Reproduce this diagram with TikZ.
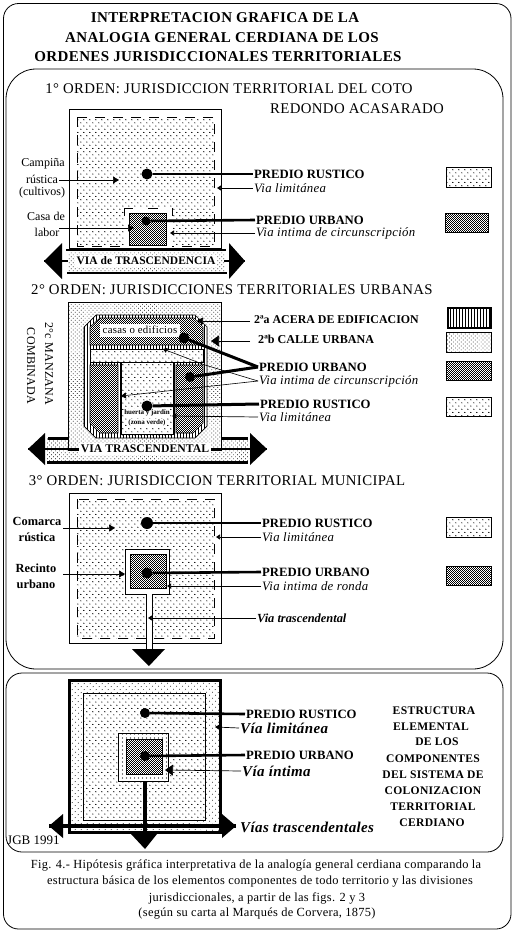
\documentclass[tikz,border=0pt]{standalone}
\usepackage{fontspec}
\setmainfont{Liberation Serif}
\usetikzlibrary{patterns.meta,arrows.meta}
\newfontfamily\spc[LetterSpace=2.5]{Liberation Serif}
\newcommand\rusticfield[4]{%
 \begin{scope}
 \clip (#1,#2) rectangle (#3,#4);
 \pgfmathtruncatemacro\rnx{(#3-#1)/6}\pgfmathtruncatemacro\rny{(#4-#2)/6.4}
 \fill[black] foreach \i in {0,...,\rnx}{foreach \j in {0,...,\rny}{
   (#1+\i*6,#2+\j*6.4+3) -- ++(.8,-1) -- ++(.8,1) -- cycle
   (#1+\i*6+3,#2+\j*6.4+6.2) -- ++(.8,-1) -- ++(.8,1) -- cycle }};
 \end{scope}}
\newcommand\checkfield[4]{%
 \fill[white] (#1,#2) rectangle (#3,#4);
 \begin{scope}
 \clip (#1,#2) rectangle (#3,#4);
 \pgfmathtruncatemacro\cnx{#3-#1}\pgfmathtruncatemacro\cny{#4-#2}
 \fill[black] foreach \i in {0,2,...,\cnx}{foreach \j in {0,2,...,\cny}{
   (#1+\i,#2+\j) rectangle ++(.85,.85) (#1+\i+1,#2+\j+1) rectangle ++(.85,.85) }};
 \end{scope}}
\newcommand\urbanbox[4]{\checkfield{#1}{#2}{#3}{#4}\draw[thinln] (#1,#2) rectangle (#3,#4);}
\newcommand\rusticbox[4]{\fill[white] (#1,#2) rectangle (#3,#4);\rusticfield{#1}{#2}{#3}{#4}\draw[thinln] (#1,#2) rectangle (#3,#4);}
\tikzset{
 every node/.style={inner sep=1pt,text=black},
 streetfill/.style={pattern={Dots[distance=2.8pt,angle=45,radius=.5pt]},pattern color=black},
 streetsparse/.style={pattern={Dots[distance=4pt,angle=45,radius=.55pt]},pattern color=black},
 hatchfill/.style={pattern={Lines[angle=90,distance=3pt,line width=.7pt]},pattern color=black},
 thinln/.style={line width=.8pt},
 thickln/.style={line width=2.6pt},
 ptr/.style={line width=.7pt,-{Triangle[length=6pt,width=7pt]}},
 ptrbig/.style={line width=.7pt,-{Triangle[length=8pt,width=11pt]}},
 ptrsmall/.style={line width=.7pt,-{Triangle[length=4pt,width=5pt]}},
 blob/.style={circle,fill=black,inner sep=0pt},
 bighead/.style={fill=black},
 dashbox/.style={line width=.8pt,dash pattern=on 10pt off 8pt},
 hdtxt/.style={font=\fontsize{14.8}{15}\selectfont\spc},
 ttltxt/.style={font=\fontsize{15}{15}\bfseries\selectfont\spc},
 pbtxt/.style={anchor=west,font=\fontsize{12.7}{13}\bfseries\selectfont},
 pitxt/.style={anchor=west,font=\fontsize{12.8}{13}\itshape\selectfont\spc},
 captxt/.style={font=\fontsize{12.4}{13}\selectfont\spc},
 smtxt/.style={font=\fontsize{12}{12}\selectfont},
 smbtxt/.style={font=\fontsize{12.4}{12}\bfseries\selectfont},
 vittxt/.style={anchor=west,font=\fontsize{15}{15}\bfseries\itshape\selectfont\spc},
 esttxt/.style={font=\fontsize{11.6}{13}\bfseries\selectfont\spc},
}
\begin{document}
\begin{tikzpicture}[x=1pt,y=-1pt]
\useasboundingbox (0,0) rectangle (514,930);
\fill[white] (0,0) rectangle (514,930);
% frames
\draw[thinln,rounded corners=15pt] (3.5,3.5) rectangle (511,929);
\draw[thinln,rounded corners=30pt] (6,69) rectangle (503,669);
\draw[thinln,rounded corners=16pt] (6,673) rectangle (503,852);
% title
\node[ttltxt] (t1) at (225,18) {INTERPRETACION GRAFICA DE LA};
\node[ttltxt] (t2) at (222,38) {ANALOGIA GENERAL CERDIANA DE LOS};
\node[ttltxt] (t3) at (218,57) {ORDENES JURISDICCIONALES TERRITORIALES};
% ---------- first order
\node[hdtxt] (o1) at (229,89) {1° ORDEN: JURISDICCION TERRITORIAL DEL COTO};
\node[hdtxt] (o1b) at (357,109) {REDONDO ACASARADO};
\draw[thinln] (69,109) rectangle (221,248);
\rusticfield{77}{117}{214}{246}
\draw[dashbox] (77,117) rectangle (214,246);
\fill[white] (124,208) rectangle (172,247);
\draw[line width=.8pt] (124,216) -- (124,208) -- (133,208) (148,208) -- (158,208) (172,208) -- (172,216);
\urbanbox{129}{213}{166}{245}
\node[blob,minimum size=11pt] (d1r) at (147,174) {};
\node[blob,minimum size=9pt] (d1u) at (146,221) {};
\fill[streetfill] (68,252) rectangle (224,271);
\draw[thickln] (66,250) -- (226,250);
\draw[thickln] (67,273) -- (227,273);
\node[font=\fontsize{11.5}{13}\bfseries\selectfont,fill=white,inner sep=2pt] (v1) at (146,261) {VIA de TRASCENDENCIA};
\coordinate (a1l) at (44,261); \coordinate (a1r) at (245,261);
\fill[bighead] (a1l) -- (62,243) -- (62,279) -- cycle;
\fill[bighead] (a1r) -- (229,243) -- (229,279) -- cycle;
\draw[line width=2pt] (a1l) -- (68,261);
\draw[line width=2pt] (224,261) -- (a1r);
\node[smtxt] (c1) at (43,164) {Campiña};
\node[smtxt] (c2) at (42,179) {rústica};
\node[smtxt] (c3) at (42,193) {(cultivos)};
\node[smtxt] (c4) at (46,216) {Casa de};
\node[smtxt] (c5) at (47,232) {labor};
\coordinate (sc) at (59,180); \coordinate (tc) at (119,180);
\coordinate (sl) at (59,228); \coordinate (tl) at (134,228);
\draw[ptr] (sc) -- (tc);
\draw[ptr] (sl) -- (tl);
\node[pbtxt] (p1r) at (253,174) {PREDIO RUSTICO};
\node[pitxt] (p1v) at (253,188) {Via limitánea};
\node[pbtxt] (p1u) at (255,220) {PREDIO URBANO};
\node[pitxt] (p1i) at (255,233) {Via intima de circunscripción};
\coordinate (t1v) at (217,188); \coordinate (t1i) at (170,233);
\draw[thickln] (d1r) -- (p1r.west);
\draw[thickln] (d1u) -- (p1u.west);
\draw[ptrsmall] (p1v.west) -- (t1v);
\draw[ptrsmall] (p1i.west) -- (t1i);
\rusticbox{446}{167}{491}{187}
\urbanbox{445}{213}{488}{232}
% ---------- second order
\node[hdtxt] (o2) at (232,290) {2° ORDEN: JURISDICCIONES TERRITORIALES URBANAS};
\fill[streetfill] (46,438) rectangle (249,461);
\fill[white] (68,302) rectangle (221,450);
\fill[streetfill,draw=black,line width=.8pt] (68,302) rectangle (221,450);
\draw[line width=.7pt,preaction={fill=white},hatchfill] (96,315) -- (195,315) -- (207,327) -- (207,426) -- (195,438) -- (96,438) -- (84,426) -- (84,327) -- cycle;
\begin{scope}
\clip (100,318) -- (194,318) -- (203,327) -- (203,345) -- (90,345) -- (90,327) -- cycle;
\checkfield{90}{318}{203}{345}
\end{scope}
\draw[line width=.6pt] (100,318) -- (194,318) -- (203,327) -- (203,345) -- (90,345) -- (90,327) -- cycle;
\begin{scope}
\clip (90,365) -- (118,365) -- (118,433) -- (100,433) -- (90,423) -- cycle;
\checkfield{90}{365}{118}{433}
\end{scope}
\draw[line width=.6pt] (90,365) -- (118,365) -- (118,433) -- (100,433) -- (90,423) -- cycle;
\begin{scope}
\clip (176,365) -- (203,365) -- (203,423) -- (193,433) -- (176,433) -- cycle;
\checkfield{176}{365}{203}{433}
\end{scope}
\draw[line width=.6pt] (176,365) -- (203,365) -- (203,423) -- (193,433) -- (176,433) -- cycle;
\fill[white] (122,362) rectangle (172,435);
\rusticfield{122}{362}{172}{435}
\draw[line width=1pt] (121,362) -- (121,434) -- (173,434) -- (173,362);
\fill[white] (90,349) rectangle (203,362);
\rusticfield{90}{349}{203}{362}
\draw[line width=.6pt] (90,349) rectangle (203,362);
\node[font=\fontsize{10.8}{12}\selectfont\spc,fill=white,minimum width=80pt,minimum height=13pt] (casas) at (140,330) {casas o edificios};
\node[font=\fontsize{7}{8}\bfseries\selectfont,fill=white,inner sep=.5pt] (hu) at (147,413) {huerta y jardín};
\node[font=\fontsize{7}{8}\bfseries\selectfont,fill=white,inner sep=.5pt] (zv) at (147,423) {(zona verde)};
\node[blob,minimum size=11pt] (d2a) at (184,338) {};
\node[blob,minimum size=10pt] (d2b) at (190,377) {};
\node[blob,minimum size=11pt] (d2r) at (147,406) {};
\draw[line width=3pt] (48,438) -- (68,438);
\draw[line width=3pt] (221,438) -- (248,438);
\draw[line width=3pt] (47,462) -- (248,462);
\node[font=\fontsize{11.7}{13}\bfseries\selectfont,fill=white,inner sep=2pt] (v2) at (145,449) {VIA TRASCENDENTAL};
\coordinate (a2l) at (28,449); \coordinate (a2r) at (267,449);
\fill[bighead] (a2l) -- (45,433) -- (45,465) -- cycle;
\fill[bighead] (a2r) -- (250,433) -- (250,465) -- cycle;
\draw[line width=2pt] (a2l) -- (v2.west);
\draw[line width=2pt] (v2.east) -- (a2r);
\node[rotate=-90,font=\fontsize{12}{13}\selectfont\spc] (m1) at (49,364) {2°c MANZANA};
\node[rotate=-90,font=\fontsize{12}{13}\selectfont\spc] (m2) at (31,366) {COMBINADA};
\node[pbtxt,font=\fontsize{11.9}{13}\bfseries\selectfont] (p2a) at (253,320) {2ªa ACERA DE EDIFICACION};
\node[pbtxt,font=\fontsize{12.1}{13}\bfseries\selectfont] (p2b) at (257,339) {2ªb CALLE URBANA};
\node[pbtxt] (p2u) at (258,367) {PREDIO URBANO};
\node[pitxt] (p2i) at (258,381) {Via intima de circunscripción};
\node[pbtxt] (p2r) at (259,404) {PREDIO RUSTICO};
\node[pitxt] (p2v) at (258,417) {Via limitánea};
\coordinate (t2a) at (197,321); \coordinate (t2b) at (211,341);
\coordinate (t2c) at (163,349); \coordinate (t2d) at (121,396); \coordinate (t2e) at (172,416);
\draw[ptr] (p2a.west) ++(-3,1) -- (t2a);
\draw[ptrbig] (p2b.west) ++(-7,2) -- (t2b);
\draw[line width=3pt] (d2a) -- (p2u.west);
\draw[line width=3pt] (d2b) -- (p2u.west);
\draw[line width=3pt] (d2r) -- (p2r.west);
\draw[line width=.6pt,-{Triangle[length=4pt,width=5pt]}] (p2i.west) -- (205,365) -- (t2c);
\draw[line width=.6pt,-{Triangle[length=5pt,width=6pt]}] (p2i.west) -- (t2d);
\draw[ptrsmall] (p2v.west) -- (t2e);
\draw[line width=1.2pt,hatchfill] (448,308) rectangle (491,328);
\draw[thinln,streetfill] (446,332) rectangle (491,352);
\urbanbox{446}{361}{491}{380}
\rusticbox{446}{397}{491}{416}
% ---------- third order
\node[hdtxt] (o3) at (217,481) {3° ORDEN: JURISDICCION TERRITORIAL MUNICIPAL};
\draw[thinln] (69,493) rectangle (221,643);
\rusticfield{77}{499}{214}{638}
\draw[dashbox] (77,499) rectangle (214,638);
\draw[thinln,fill=white] (125,549) rectangle (169,594);
\urbanbox{130}{554}{166}{588}
\fill[white] (146,590) rectangle (152,652);
\draw[thinln] (146,594) -- (146,652) (152,594) -- (152,652);
\coordinate (a3) at (149,666);
\fill[bighead] (a3) -- (132,649) -- (165,649) -- cycle;
\node[blob,minimum size=12pt] (d3r) at (147,523) {};
\node[blob,minimum size=11pt] (d3u) at (147,573) {};
\node[smbtxt] (k1) at (37,521) {Comarca};
\node[smbtxt] (k2) at (37,537) {rústica};
\node[smbtxt] (k3) at (36,568) {Recinto};
\node[smbtxt] (k4) at (36,584) {urbano};
\coordinate (k1t) at (115,528); \coordinate (k3t) at (125,574);
\coordinate (k1s) at (63,528); \coordinate (k3s) at (63,574);
\draw[ptr] (k1s) -- (k1t);
\draw[ptr] (k3s) -- (k3t);
\node[pbtxt] (p3r) at (261,523) {PREDIO RUSTICO};
\node[pitxt] (p3v) at (261,537) {Via limitánea};
\node[pbtxt] (p3u) at (261,572) {PREDIO URBANO};
\node[pitxt] (p3i) at (261,586) {Via intima de ronda};
\node[pitxt,font=\fontsize{12.4}{13}\bfseries\itshape\selectfont] (p3t) at (256,618) {Via trascendental};
\coordinate (t3v) at (216,537); \coordinate (t3i) at (167,586); \coordinate (t3t) at (148,618);
\draw[thickln] (d3r) -- (p3r.west);
\draw[thickln] (d3u) -- (p3u.west);
\draw[ptrsmall] (p3v.west) -- (t3v);
\draw[ptrsmall] (p3i.west) -- (t3i);
\draw[ptrsmall] (p3t.west) -- (t3t);
\rusticbox{446}{517}{491}{537}
\urbanbox{446}{566}{491}{585}
% ---------- fourth
\fill[streetsparse] (69,680) rectangle (220,832);
\rusticbox{83}{693}{205}{820}
\fill[white] (118,733) rectangle (168,781);
\begin{scope}
\clip (118,733) rectangle (168,781);
\fill[black] foreach \i in {0,...,12}{foreach \j in {0,...,12}{
  (118.5+\i*4,734+\j*4) circle[radius=.55] }};
\end{scope}
\draw[thinln] (118,733) rectangle (168,781);
\urbanbox{126}{739}{162}{774}
\draw[line width=3pt] (69,680) rectangle (220,832);
\node[blob,minimum size=10pt] (d4r) at (145,713) {};
\node[blob,minimum size=10pt] (d4u) at (145,756) {};
\node[pbtxt] (p4r) at (245,714) {PREDIO RUSTICO};
\node[vittxt] (p4v) at (239,728) {Vía limitánea};
\node[pbtxt] (p4u) at (245,755) {PREDIO URBANO};
\node[vittxt] (p4i) at (241,771) {Vía íntima};
\node[vittxt] (p4t) at (239,827) {Vías trascendentales};
\coordinate (t4v) at (215,727); \coordinate (t4i) at (165,770);
\draw[thickln] (d4r) -- (p4r.west);
\draw[thickln] (d4u) -- (p4u.west);
\draw[ptr] (p4v.west) -- (t4v);
\draw[ptrbig] (p4i.west) -- (t4i);
\coordinate (j4) at (145,781); \coordinate (a4d) at (145,849);
\coordinate (a4l) at (49,826); \coordinate (a4r) at (236,826);
\draw[line width=4.5pt] (j4) -- (145,836);
\fill[bighead] (a4d) -- (131,834) -- (157,834) -- cycle;
\draw[line width=4pt] (a4l) -- (a4r);
\fill[bighead] (a4l) -- (63,814) -- (63,838) -- cycle;
\fill[bighead] (a4r) -- (222,814) -- (222,838) -- cycle;
\node[font=\fontsize{13}{13}\selectfont,anchor=west] (jgb) at (6,840) {JGB 1991};
\node[esttxt] (e1) at (434,711) {ESTRUCTURA};
\node[esttxt] (e2) at (431,727) {ELEMENTAL};
\node[esttxt] (e3) at (437,742) {DE LOS};
\node[esttxt] (e4) at (433,759) {COMPONENTES};
\node[esttxt] (e5) at (433,775) {DEL SISTEMA DE};
\node[esttxt] (e6) at (433,791) {COLONIZACION};
\node[esttxt] (e7) at (433,807) {TERRITORIAL};
\node[esttxt] (e8) at (432,823) {CERDIANO};
% caption
\node[captxt] (f1) at (256,865) {Fig. 4.- Hipótesis gráfica interpretativa de la analogía general cerdiana comparando la};
\node[captxt] (f2) at (260,882) {estructura básica de los elementos componentes de todo territorio y las divisiones};
\node[captxt] (f3) at (257,898) {jurisdiccionales, a partir de las figs. 2 y 3};
\node[captxt] (f4) at (257,914) {(según su carta al Marqués de Corvera, 1875)};
\end{tikzpicture}
\end{document}
